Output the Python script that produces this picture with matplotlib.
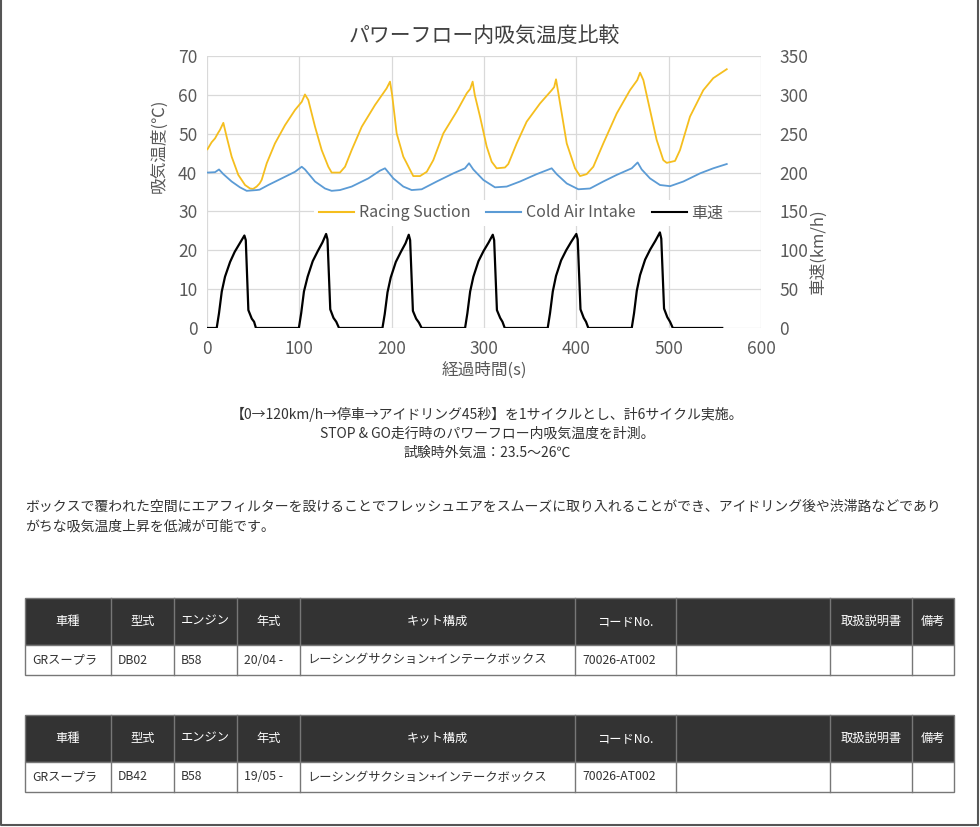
import matplotlib
matplotlib.use("Agg")
import matplotlib.pyplot as plt
from matplotlib.patches import Rectangle
from matplotlib.lines import Line2D

plt.rcParams["font.family"] = ["Noto Sans CJK JP", "DejaVu Sans"]

# -----------------------------
# --- Data
# -----------------------------
racing_t = [0.5, 5, 8.7, 12, 14.1, 17.7, 21.3, 26.7, 33.9, 41.2, 46.6, 50, 53.8, 57, 59.2,
            64.7, 73.6, 84.5, 95.3, 102.6, 106.1, 109.7, 117, 124.2, 131.4, 135, 144, 149.5,
            156.7, 167.6, 182, 194.6, 198.2, 200.5, 205.4, 212.6, 216.3, 219.9, 223.4, 230.7,
            238, 245.1, 256, 270.4, 281.3, 285, 287.7, 290, 295.7, 302.9, 308.3, 313.7, 322.7,
            326.3, 335.4, 346.2, 360.7, 373.3, 376, 378, 380.5, 389.6, 398.6, 404, 411.2, 418.4,
            429.2, 443.7, 458.1, 466, 469, 472.6, 479.8, 487, 494.2, 497.9, 506.9, 512.3, 523.1,
            537.5, 548.3, 562.9]
racing_temp = [46.0, 47.8, 48.8, 50.2, 51.0, 52.8, 49.2, 44.1, 39.4, 36.8, 35.9, 35.8, 36.4, 37.2, 38.1,
               42.4, 47.5, 52.2, 56.1, 58.2, 60.1, 58.7, 51.8, 45.8, 41.5, 40.0, 40.0, 41.5,
               45.8, 51.8, 57.4, 61.7, 63.4, 60.0, 50.1, 44.1, 42.4, 40.7, 39.1, 39.1,
               40.2, 43.2, 50.1, 55.7, 60.4, 61.5, 63.4, 60.0, 54.4, 46.7, 42.8, 41.1, 41.3,
               42.2, 47.5, 53.1, 57.8, 61.2, 62.0, 64.0, 60.5, 47.5, 41.1, 39.1, 39.6, 41.5,
               47.5, 55.2, 61.2, 63.8, 65.7, 63.8, 56.1, 48.4, 43.2, 42.5, 43.0, 45.8, 54.4,
               61.2, 64.3, 66.6]

cold_t = [0.5, 8.7, 13, 17.7, 26.7, 35.7, 43, 53.8, 57, 66.4, 80.9, 95.3, 102.6, 106.1, 117,
          127.8, 135, 144, 156.7, 174.7, 187.4, 192.8, 201.8, 212.6, 221.7, 232.5, 248.8, 266.8,
          279.4, 283.8, 288.4, 299.3, 311.9, 324.6, 339, 357.1, 369, 373.3, 378.7, 389.6, 402.2,
          414.8, 429.2, 443.7, 460, 466.4, 470.8, 479.8, 490.6, 501.5, 515.9, 534, 548.3, 562.9]
cold_temp = [40.0, 40.1, 40.8, 39.6, 37.7, 36.2, 35.3, 35.5, 35.6, 36.8, 38.5, 40.2, 41.5, 40.8, 37.7,
             35.9, 35.3, 35.5, 36.4, 38.5, 40.5, 41.1, 38.5, 36.4, 35.5, 35.7, 37.7, 39.8,
             41.1, 42.4, 40.8, 38.1, 36.2, 36.4, 37.7, 39.6, 40.7, 41.1, 39.6, 37.2, 35.7,
             35.9, 37.7, 39.4, 41.1, 42.6, 40.8, 38.5, 36.8, 36.5, 37.7, 39.8, 41.1, 42.2]

speed_t = [0, 10.5, 13, 16, 19.5, 25, 30, 35.5, 40.5, 42, 44.8, 48.5, 51, 53,
           99.5, 102, 105, 109, 114.5, 120, 125, 129, 130.5, 133.5, 137, 140, 143,
           190, 192.5, 195.5, 199, 204.5, 210, 215, 218.5, 220, 223, 226.5, 229.5, 232.5,
           279.5, 282, 285, 288.5, 294, 299.5, 305, 309.5, 311, 314, 317.5, 320, 322.5,
           369, 371.5, 374.5, 378, 383.5, 389, 394.5, 400, 401.5, 404.5, 408, 410.5, 413,
           460, 462.5, 465.5, 469, 474.5, 480, 485.5, 490.5, 492, 495, 498.5, 501.5, 504.5,
           558]
speed_kmh = [0, 0, 19, 47, 66, 85, 98, 109, 119, 113, 23, 12, 8, 0,
             0, 19, 47, 66, 86, 99, 110, 121, 114, 24, 13, 8, 0,
             0, 18, 46, 65, 85, 98, 109, 120, 113, 22, 12, 7, 0,
             0, 19, 47, 66, 86, 99, 110, 120, 113, 23, 13, 8, 0,
             0, 19, 47, 67, 87, 100, 111, 121, 114, 24, 13, 8, 0,
             0, 19, 48, 68, 88, 101, 112, 123, 115, 25, 14, 8, 0,
             0]

series_names = ["Racing Suction", "Cold Air Intake", "車速"]
series_colors = ["#F5BE1E", "#5B9BD5", "#000000"]

notes = ["【0→120km/h→停車→アイドリング45秒】を1サイクルとし、計6サイクル実施。",
         "STOP & GO走行時のパワーフロー内吸気温度を計測。",
         "試験時外気温：23.5～26℃"]
paragraph = ["ボックスで覆われた空間にエアフィルターを設けることでフレッシュエアをスムーズに取り入れることができ、アイドリング後や渋滞路などであり",
             "がちな吸気温度上昇を低減が可能です。"]

table_header = ["車種", "型式", "エンジン", "年式", "キット構成", "コードNo.", "", "取扱説明書", "備考"]
table_row1 = ["GRスープラ", "DB02", "B58", "20/04 -", "レーシングサクション+インテークボックス", "70026-AT002", "", "", ""]
table_row2 = ["GRスープラ", "DB42", "B58", "19/05 -", "レーシングサクション+インテークボックス", "70026-AT002", "", "", ""]

# -----------------------------
# --- Figure
# -----------------------------
W, H = 980, 827
fig = plt.figure(figsize=(W / 100, H / 100), dpi=100, facecolor="white")

# page overlay in pixel coords
page = fig.add_axes([0, 0, 1, 1])
page.set_xlim(0, W)
page.set_ylim(H, 0)
page.axis("off")

# -----------------------------
# --- Chart
# -----------------------------
grid_c = "#d9d9d9"
tick_c = "#595959"
ax = fig.add_axes([207 / W, 1 - 328 / H, 554 / W, 272 / H])
ax.plot(racing_t, racing_temp, color=series_colors[0], lw=1.3)
ax.plot(cold_t, cold_temp, color=series_colors[1], lw=1.3)
ax.set_xlim(0, 600)
ax.set_ylim(0, 70)
ax.set_xticks(range(0, 601, 100))
ax.set_yticks(range(0, 71, 10))
ax.grid(True, color=grid_c, lw=0.9)
ax.set_axisbelow(True)
for s in ax.spines.values():
    s.set_visible(False)
ax.tick_params(length=0, labelsize=12.5, labelcolor=tick_c)
ax.tick_params(axis="y", pad=7)
ax.tick_params(axis="x", pad=9)
ax.set_xlabel("経過時間(s)", fontsize=12, color=tick_c)
ax.xaxis.set_label_coords(0.5, -0.125)
ax.set_ylabel("吸気温度(℃)", fontsize=12, color=tick_c)
ax.yaxis.set_label_coords(-0.072, 0.669)

ax2 = ax.twinx()
ax2.plot(speed_t, speed_kmh, color=series_colors[2], lw=1.6)
ax2.set_ylim(0, 350)
ax2.set_yticks(range(0, 351, 50))
for s in ax2.spines.values():
    s.set_visible(False)
ax2.tick_params(length=0, labelsize=12.5, labelcolor=tick_c, pad=13)
ax2.set_ylabel("車速(km/h)", fontsize=12, color=tick_c)
ax2.yaxis.set_label_coords(1.088, 0.279)

handles = [Line2D([], [], color=c, lw=1.5) for c in series_colors]
leg = ax2.legend(handles, series_names, loc="center", bbox_to_anchor=(0.567, 0.423),
                 ncol=3, frameon=True, facecolor="white", edgecolor="none", framealpha=1,
                 fontsize=11.5, handlelength=2.2, handletextpad=0.3, columnspacing=1.0,
                 borderpad=0.3)
for t in leg.get_texts():
    t.set_color(tick_c)

fig.text(484 / W, 1 - 36 / H, "パワーフロー内吸気温度比較", fontsize=15, color="#404040",
         ha="center", va="center")

# -----------------------------
# --- Notes and paragraph
# -----------------------------
for i, line in enumerate(notes):
    page.text(487, 414 + i * 19.5, line, fontsize=10, color="#333333", ha="center", va="center")
for i, line in enumerate(paragraph):
    page.text(25, 507 + i * 19.5, line, fontsize=10, color="#333333", ha="left", va="center")

# -----------------------------
# --- Tables
# -----------------------------
col_edges = [25, 111, 174, 237, 300, 575, 676, 830, 912, 954]


def draw_table(top, row):
    hdr_bot = top + 47
    bot = hdr_bot + 30
    page.add_patch(Rectangle((col_edges[0], top), col_edges[-1] - col_edges[0], hdr_bot - top,
                             facecolor="#333333", edgecolor="#777777", lw=1))
    page.add_patch(Rectangle((col_edges[0], hdr_bot), col_edges[-1] - col_edges[0], bot - hdr_bot,
                             facecolor="white", edgecolor="#777777", lw=1))
    for x in col_edges[1:-1]:
        page.plot([x, x], [top, bot], color="#777777", lw=1)
    for i, label in enumerate(table_header):
        cx = (col_edges[i] + col_edges[i + 1]) / 2
        page.text(cx, (top + hdr_bot) / 2, label, fontsize=8.8, color="white",
                  ha="center", va="center")
    for i, val in enumerate(row):
        page.text(col_edges[i] + 7, (hdr_bot + bot) / 2, val, fontsize=8.8, color="#333333",
                  ha="left", va="center")


draw_table(598, table_row1)
draw_table(715, table_row2)

# page border
page.plot([1, 1, 978, 978], [0, 825, 825, 0], color="#555555", lw=1.5)

fig.savefig("out.png", dpi=100, facecolor="white")
